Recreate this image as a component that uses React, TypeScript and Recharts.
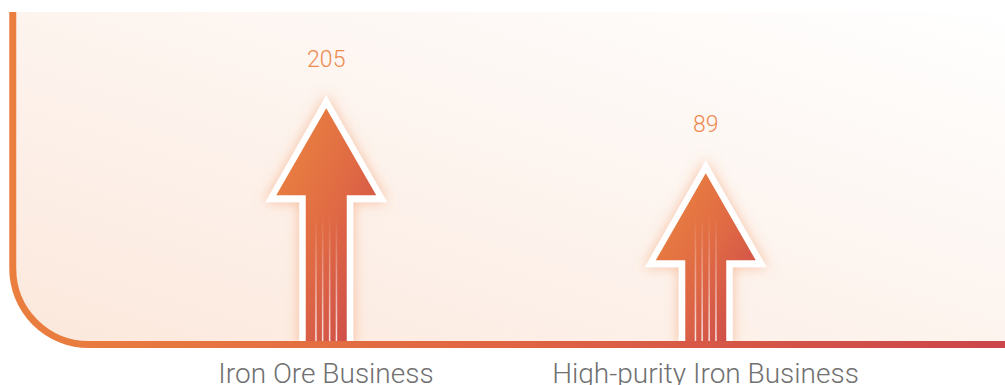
import React from "react";
import { BarChart, Bar, XAxis, YAxis, LabelList } from "recharts";

const categories = ["Iron Ore Business", "High-purity Iron Business"];
const values = [205, 89];
const data = categories.map((name, i) => ({ name, value: values[i] }));

const W = 1005;
const H = 385;
const FONT = "Roboto, 'Liberation Sans', Arial, sans-serif";
const Y_DOMAIN: [number, number] = [-239, 353];
const STREAKS = [-10.3, -3.6, 3.4, 10.2];

const ArrowShape = (props: any) => {
  const { x, y, width, height, background, index } = props;
  const cx = x + width / 2;
  const T = y;
  const bottom =
    background && typeof background.y === "number"
      ? background.y + background.height
      : y + height;
  const outer = `M${cx},${T} L${cx + 61},${T + 107} L${cx + 27},${T + 107} L${cx + 27},${bottom} L${cx - 27},${bottom} L${cx - 27},${T + 107} L${cx - 61},${T + 107} Z`;
  const inner = `M${cx},${T + 13} L${cx + 50},${T + 100} L${cx + 20.5},${T + 100} L${cx + 20.5},${bottom} L${cx - 20.5},${bottom} L${cx - 20.5},${T + 100} L${cx - 50},${T + 100} Z`;
  const streakTop = bottom - 128;
  return (
    <g key={`arrow-${index}`}>
      <path d={outer} fill="#ffffff" filter="url(#arrowGlow)" />
      <path d={inner} fill="url(#arrowFill)" />
      {STREAKS.map((dx, i) => (
        <rect
          key={i}
          x={cx + dx - 0.75}
          y={streakTop}
          width={1.5}
          height={bottom - streakTop}
          fill="url(#streakFill)"
        />
      ))}
    </g>
  );
};

const Tick = (props: any) => {
  const { x, y, payload } = props;
  return (
    <text
      x={x}
      y={y + 30}
      textAnchor="middle"
      fill="#707070"
      fontSize={28}
      fontFamily={FONT}
      fontWeight={300}
    >
      {payload.value}
    </text>
  );
};

const PANEL_LEFT = 12.75;
const PANEL_TOP = 12;
const PANEL_BOTTOM = 344.5;
const RADIUS = 76;

export default function App() {
  return (
    <div style={{ position: "relative", width: W, height: H, overflow: "hidden" }}>
      <style>{`body{margin:0;}`}</style>
      <svg
        width={W}
        height={H}
        style={{ position: "absolute", left: 0, top: 0 }}
      >
        <defs>
          <linearGradient id="panelBg" x1="0" y1="1" x2="1" y2="0">
            <stop offset="0" stopColor="#fce8dc" />
            <stop offset="0.55" stopColor="#fdf5f0" />
            <stop offset="1" stopColor="#ffffff" />
          </linearGradient>
        </defs>
        <path
          d={`M${PANEL_LEFT},${PANEL_TOP} L${W + 10},${PANEL_TOP} L${W + 10},${PANEL_BOTTOM} L${PANEL_LEFT + RADIUS},${PANEL_BOTTOM} A${RADIUS},${RADIUS} 0 0 1 ${PANEL_LEFT},${PANEL_BOTTOM - RADIUS} Z`}
          fill="url(#panelBg)"
        />
      </svg>
      <div style={{ position: "absolute", left: 0, top: 0 }}>
        <BarChart
          width={W}
          height={H}
          data={data}
          margin={{ top: 12, right: 0, left: 13, bottom: 0 }}
        >
          <defs>
            <linearGradient id="arrowFill" x1="0" y1="0" x2="1" y2="1">
              <stop offset="0" stopColor="#ec873f" />
              <stop offset="0.5" stopColor="#e06a44" />
              <stop offset="1" stopColor="#c8434b" />
            </linearGradient>
            <linearGradient id="streakFill" x1="0" y1="0" x2="0" y2="1">
              <stop offset="0" stopColor="#ffffff" stopOpacity={0} />
              <stop offset="1" stopColor="#ffffff" stopOpacity={0.85} />
            </linearGradient>
            <filter id="arrowGlow" x="-50%" y="-30%" width="200%" height="160%">
              <feDropShadow dx="0" dy="0" stdDeviation="6.5" floodColor="#f08a50" floodOpacity="0.5" />
            </filter>
          </defs>
          <XAxis
            dataKey="name"
            height={40.5}
            axisLine={false}
            tickLine={false}
            interval={0}
            padding={{ left: 123.25, right: 109.75 }}
            tick={<Tick />}
          />
          <YAxis type="number" domain={Y_DOMAIN} hide allowDataOverflow />
          <Bar dataKey="value" barSize={54} shape={<ArrowShape />} isAnimationActive={false}>
            <LabelList
              dataKey="value"
              position="top"
              offset={28}
              fill="#ee8a4f"
              fontSize={23}
              fontFamily={FONT}
              fontWeight={300}
            />
          </Bar>
        </BarChart>
      </div>
      <svg
        width={W}
        height={H}
        style={{ position: "absolute", left: 0, top: 0, pointerEvents: "none" }}
      >
        <defs>
          <linearGradient id="borderStroke" gradientUnits="userSpaceOnUse" x1="0" y1="0" x2={W} y2="0">
            <stop offset="0" stopColor="#ea7f3e" />
            <stop offset="0.5" stopColor="#df6543" />
            <stop offset="1" stopColor="#cb464a" />
          </linearGradient>
        </defs>
        <path
          d={`M${PANEL_LEFT},${PANEL_TOP} L${PANEL_LEFT},${PANEL_BOTTOM - RADIUS} A${RADIUS},${RADIUS} 0 0 0 ${PANEL_LEFT + RADIUS},${PANEL_BOTTOM} L${W + 10},${PANEL_BOTTOM}`}
          fill="none"
          stroke="url(#borderStroke)"
          strokeWidth={7}
        />
      </svg>
    </div>
  );
}
